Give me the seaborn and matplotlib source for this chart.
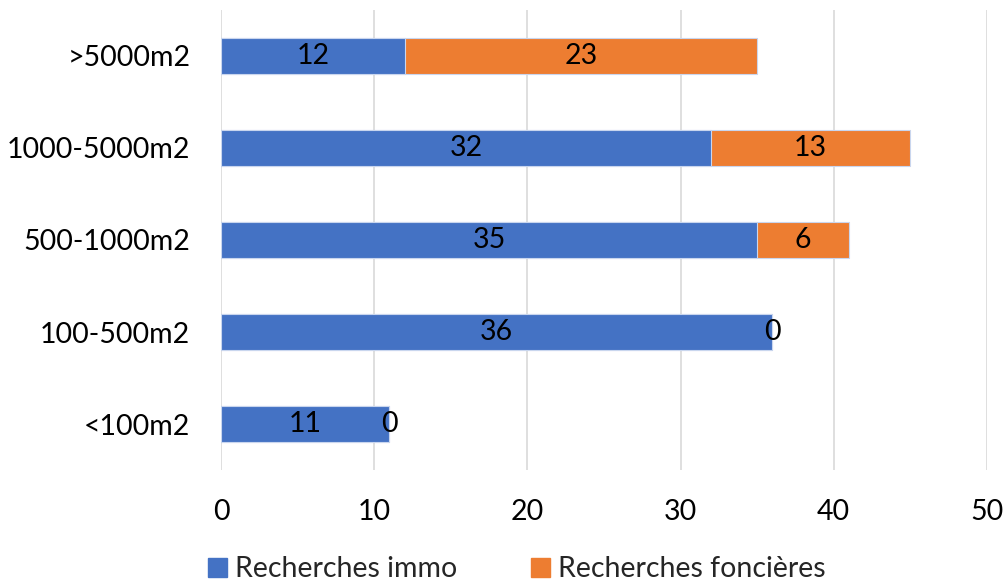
import numpy as np
import matplotlib
matplotlib.use("Agg")
import matplotlib.pyplot as plt
import seaborn as sns
from matplotlib.patches import Patch

# Data (top to bottom as displayed)
categories = [">5000m2", "1000-5000m2", "500-1000m2", "100-500m2", "<100m2"]
immo = [12, 32, 35, 36, 11]
foncieres = [23, 13, 6, 0, 0]
series_names = ["Recherches immo", "Recherches foncières"]

BLUE = "#4472C4"
ORANGE = "#ED7D31"
FS = 20.5

sns.set_style("white")
plt.rcParams["font.family"] = ["Lato", "DejaVu Sans"]

totals = [a + b for a, b in zip(immo, foncieres)]

fig = plt.figure(figsize=(10.04, 5.87), dpi=100)
ax = fig.add_axes([0.2201, 0.1993, 0.983 - 0.2201, 0.983 - 0.1993])

# stacked: draw totals in orange, then immo in blue on top
sns.barplot(x=totals, y=categories, color=ORANGE, width=0.39, saturation=1,
            orient="h", ax=ax, zorder=2, edgecolor="#c9d6ee", linewidth=0.8)
sns.barplot(x=immo, y=categories, color=BLUE, width=0.39, saturation=1,
            orient="h", ax=ax, zorder=3, edgecolor="#c9d6ee", linewidth=0.8)

# value labels centred in each segment
for i, (a, b) in enumerate(zip(immo, foncieres)):
    ax.text(a / 2, i, str(a), ha="center", va="center", fontsize=FS, color="black", zorder=5)
    ax.text(a + b / 2, i, str(b), ha="center", va="center", fontsize=FS, color="black", zorder=5)

ax.set_xlim(0, 50)
ax.set_ylim(4.5, -0.5)
ax.set_xticks(np.arange(0, 51, 10))
ax.xaxis.grid(True, color="#d9d9d9", linewidth=1.2, zorder=0)
ax.set_axisbelow(True)
for s in ax.spines.values():
    s.set_visible(False)
ax.tick_params(axis="both", length=0, labelsize=FS, colors="black")
ax.tick_params(axis="x", pad=21)
ax.tick_params(axis="y", pad=22)
ax.set_xlabel("")
ax.set_ylabel("")

handles = [Patch(color=BLUE), Patch(color=ORANGE)]
fig.legend(handles, series_names, loc="center", bbox_to_anchor=(0.515, 0.03),
           ncol=2, frameon=False, fontsize=FS, handlelength=0.65, handleheight=0.65,
           handletextpad=0.3, columnspacing=2.6)

fig.savefig("out.png", dpi=100)
